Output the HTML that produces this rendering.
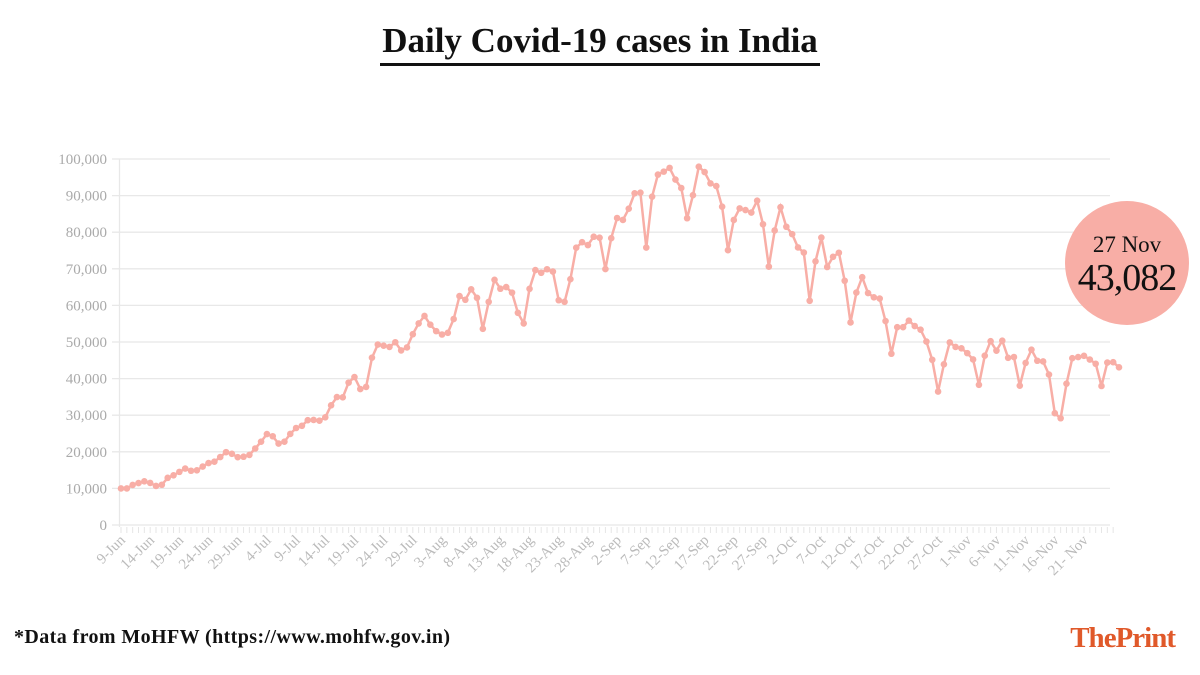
<!DOCTYPE html>
<html><head><meta charset="utf-8"><style>
body{margin:0;background:#fff;width:1200px;height:675px;overflow:hidden}
svg{display:block}
</style></head><body>
<svg id="s" width="1200" height="675" xmlns="http://www.w3.org/2000/svg">
<text x="600" y="52" text-anchor="middle" font-family="Liberation Serif, serif" font-weight="bold" font-size="35" fill="#111">Daily Covid-19 cases in India</text>
<rect x="380" y="63" width="440" height="3" fill="#111"/>
<g id="grid"></g>
<g id="data"></g>
<circle cx="1127" cy="263" r="62" fill="#f8aea6"/>
<text x="1127" y="252" text-anchor="middle" font-family="Liberation Serif, serif" font-size="23" fill="#111">27 Nov</text>
<text x="1127" y="290" text-anchor="middle" font-family="Liberation Serif, serif" font-size="38" fill="#111" letter-spacing="-1">43,082</text>
<text x="14" y="643" font-family="Liberation Serif, serif" font-weight="bold" font-size="20" fill="#111" letter-spacing="0.4">*Data from MoHFW (https://www.mohfw.gov.in)</text>
<text x="1175" y="647" text-anchor="end" font-family="Liberation Serif, serif" font-weight="bold" font-size="29" fill="#e0592a" letter-spacing="-1">ThePrint</text>
</svg>
<script>
var v=[9987,9985,10956,11458,11929,11502,10667,11000,12881,13586,14516,15413,14821,14933,15968,16922,17296,18552,19906,19459,18522,18653,
19148,20903,22771,24850,24248,22252,22752,24879,26506,27114,28637,28701,28498,29429,32695,34956,34884,38902,40425,37148,37724,45720,49310,49000,48661,49931,47703,48513,52123,55079,57118,
54735,52972,52050,52509,56282,62538,61537,64399,62064,53601,60963,66999,64553,65002,63490,57981,55079,64531,69652,68898,69878,69239,61408,60975,67151,75760,77266,76472,78761,78512,69921,
78357,83883,83341,86432,90632,90802,75809,89706,95735,96551,97570,94372,92071,83809,90123,97894,96424,93337,92605,86961,75083,83347,86508,86052,85362,88600,82170,70589,80472,86821,
81484,79476,75829,74442,61267,72049,78524,70496,73272,74383,66732,55342,63509,67708,63371,62212,61871,55722,46790,54044,54044,55839,54366,53370,50129,45148,36470,43893,49881,48648,48268,
46963,45231,38310,46253,50210,47638,50356,45674,45903,38073,44281,47905,44879,44684,41100,30548,29164,38617,45576,45882,46232,45209,44059,37975,44376,44489,43082];
var ns="http://www.w3.org/2000/svg",g=document.getElementById('grid'),d=document.getElementById('data');
function el(t,a,p,txt){var e=document.createElementNS(ns,t);for(var k in a)e.setAttribute(k,a[k]);if(txt)e.textContent=txt;p.appendChild(e);return e;}
var y0=525,yh=366,x0=121,st=(1119-121)/171;
for(var i=0;i<=10;i++){var y=y0-i*yh/10;
el('line',{x1:112,x2:1110,y1:y,y2:y,stroke:'#e8e8e8','stroke-width':1.3},g);
el('text',{x:107,y:y+5,'text-anchor':'end','font-family':'Liberation Serif, serif','font-size':15,fill:'#aaa'},g,i==0?'0':(i*10)+',000');}
el('line',{x1:119.5,x2:119.5,y1:159,y2:527,stroke:'#e8e8e8','stroke-width':1.3},g);
for(var i=0;i<171;i++){var x=x0+i*st;el('line',{x1:x,x2:x,y1:527,y2:533,stroke:'#e6e6e6','stroke-width':1},g);}
var mon=['Jun','Jul','Aug','Sep','Oct','Nov'];
for(var i=0;i<=165;i+=5){var dd=new Date(2020,5,9+i);var lab=dd.getDate()+(dd.getMonth()==10&&dd.getDate()==21?'- ':'-')+mon[dd.getMonth()-5];
var x=x0+i*st+5,y=541;el('text',{x:x,y:y,'text-anchor':'end','font-family':'Liberation Serif, serif','font-size':15,fill:'#bbb',transform:'rotate(-45 '+x+' '+y+')'},g,lab);}
var pts=v.map(function(a,i){return (x0+i*st).toFixed(1)+','+(y0-a/100000*yh).toFixed(1)}).join(' ');
el('polyline',{points:pts,fill:'none',stroke:'#f8aea6','stroke-width':2.5},d);
v.forEach(function(a,i){el('circle',{cx:x0+i*st,cy:y0-a/100000*yh,r:3.3,fill:'#f8aea6'},d);});
</script>
</body></html>
